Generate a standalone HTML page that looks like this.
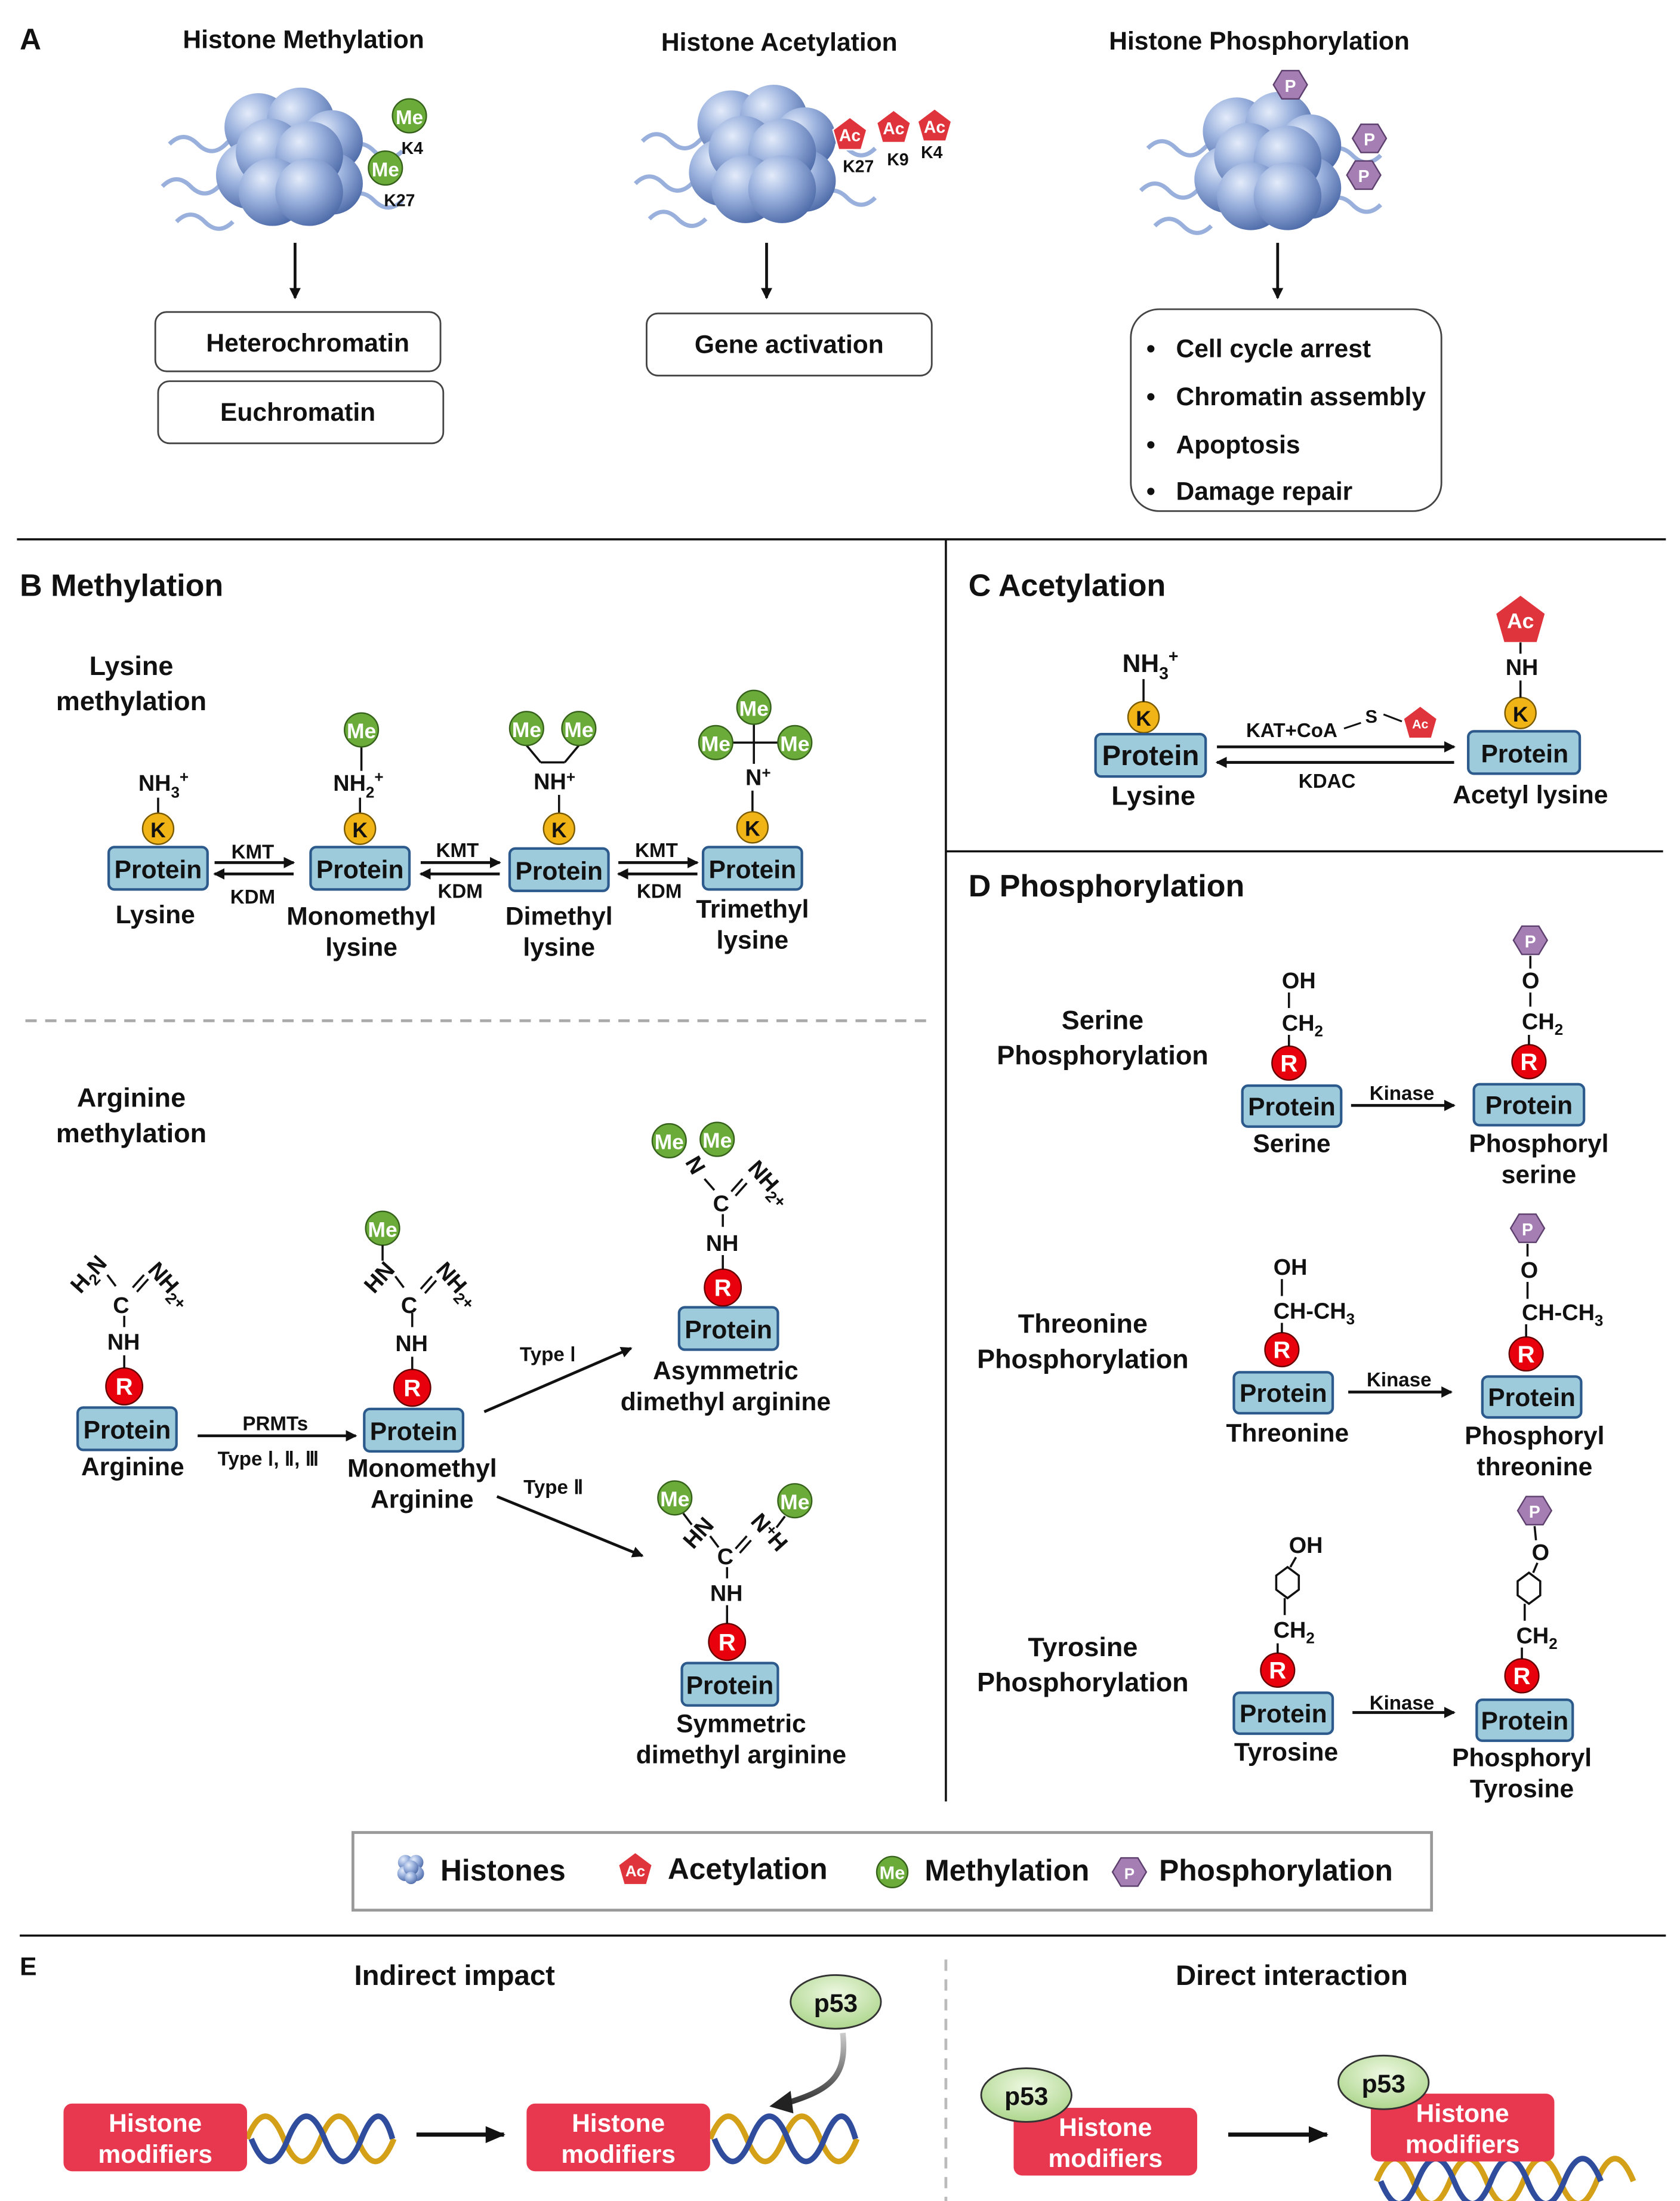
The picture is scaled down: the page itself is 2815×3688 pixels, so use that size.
<!DOCTYPE html>
<html><head><meta charset="utf-8"><style>
html,body{margin:0;padding:0;background:#fff}
svg{display:block}
text{font-family:"Liberation Sans",Arial,sans-serif;font-weight:bold;fill:#111}
</style></head><body>
<svg width="2815" height="3688" viewBox="0 0 1190 1559" xmlns="http://www.w3.org/2000/svg">
<defs>
<radialGradient id="sph" cx="0.35" cy="0.3" r="0.75"><stop offset="0" stop-color="#e4ecfa"/><stop offset="0.45" stop-color="#9bb2de"/><stop offset="1" stop-color="#4d6aa8"/></radialGradient>
<radialGradient id="p53g" cx="0.5" cy="0.35" r="0.7"><stop offset="0" stop-color="#eef8e2"/><stop offset="1" stop-color="#a9d487"/></radialGradient>
<linearGradient id="garr" x1="0" y1="0" x2="0" y2="1"><stop offset="0" stop-color="#ccc"/><stop offset="1" stop-color="#333"/></linearGradient>
<marker id="ah" markerWidth="8" markerHeight="8" refX="7" refY="4" orient="auto" markerUnits="userSpaceOnUse"><path d="M0,0 L8,4 L0,8 z" fill="#111"/></marker>
<marker id="ahb" markerWidth="14" markerHeight="12" refX="13" refY="6" orient="auto" markerUnits="userSpaceOnUse"><path d="M0,0 L14,6 L0,12 z" fill="#111"/></marker>
<g id="nuc">
<path d="M-85,-10 q10,-10 20,0 t20,0 t20,0" stroke="#9ab0dc" stroke-width="3" fill="none"/>
<path d="M-90,20 q10,-10 20,0 t20,0 t20,0" stroke="#9ab0dc" stroke-width="3" fill="none"/>
<path d="M-80,45 q10,-10 20,0 t20,0" stroke="#9ab0dc" stroke-width="3" fill="none"/>
<path d="M40,-5 q10,-10 20,0 t20,0" stroke="#9ab0dc" stroke-width="3" fill="none"/>
<path d="M40,30 q10,-10 20,0 t20,0" stroke="#9ab0dc" stroke-width="3" fill="none"/>
<circle cx="-22" cy="-22" r="24" fill="url(#sph)"/><circle cx="8" cy="-26" r="24" fill="url(#sph)"/><circle cx="30" cy="-12" r="22" fill="url(#sph)"/>
<circle cx="-28" cy="12" r="24" fill="url(#sph)"/><circle cx="30" cy="18" r="22" fill="url(#sph)"/>
<circle cx="-14" cy="-4" r="24" fill="url(#sph)"/><circle cx="14" cy="-2" r="24" fill="url(#sph)"/>
<circle cx="-12" cy="24" r="24" fill="url(#sph)"/><circle cx="14" cy="24" r="24" fill="url(#sph)"/>
</g>
<g id="pent"><path d="M0,-12 L12,-3 L8,11 L-8,11 L-12,-3 z" fill="#e0343c" stroke="#fff" stroke-width="1"/></g>
<g id="hex"><path d="M-6,-10 L6,-10 L12,0 L6,10 L-6,10 L-12,0 z" fill="#a57fb4" stroke="#5d3f6d" stroke-width="1"/></g>
</defs>

<!-- legend box first -->
<rect x="250" y="1298" width="764" height="55" fill="#fff" stroke="#999" stroke-width="2"/>

<!-- dividers -->
<g stroke="#111" stroke-width="1.5">
<line x1="12" y1="382" x2="1180" y2="382"/>
<line x1="670" y1="382" x2="670" y2="1276"/>
<line x1="670" y1="603" x2="1178" y2="603"/>
<line x1="14" y1="1371" x2="1180" y2="1371"/>
</g>
<line x1="18" y1="723" x2="660" y2="723" stroke="#aaa" stroke-width="2" stroke-dasharray="8,6"/>
<line x1="670" y1="1388" x2="670" y2="1559" stroke="#bbb" stroke-width="2" stroke-dasharray="8,6"/>

<!-- A -->
<text x="14" y="35" font-size="21">A</text>
<text x="215" y="34" font-size="18" text-anchor="middle">Histone Methylation</text>
<text x="552" y="36" font-size="18" text-anchor="middle">Histone Acetylation</text>
<text x="892" y="35" font-size="18" text-anchor="middle">Histone Phosphorylation</text>
<use href="#nuc" x="205" y="112"/>
<use href="#nuc" x="540" y="110"/>
<use href="#nuc" x="898" y="115"/>
<circle cx="290" cy="82" r="12" fill="#6aab3a" stroke="#35611a"/><text x="290" y="88" font-size="14" text-anchor="middle" style="fill:#fff">Me</text>
<circle cx="273" cy="119" r="12" fill="#6aab3a" stroke="#35611a"/><text x="273" y="125" font-size="14" text-anchor="middle" style="fill:#fff">Me</text>
<text x="292" y="109" font-size="12" text-anchor="middle">K4</text><text x="283" y="146" font-size="12" text-anchor="middle">K27</text>
<use href="#pent" x="602" y="95"/><text x="602" y="100" font-size="12" text-anchor="middle" style="fill:#fff">Ac</text>
<use href="#pent" x="633" y="90"/><text x="633" y="95" font-size="12" text-anchor="middle" style="fill:#fff">Ac</text>
<use href="#pent" x="662" y="89"/><text x="662" y="94" font-size="12" text-anchor="middle" style="fill:#fff">Ac</text>
<text x="608" y="122" font-size="12" text-anchor="middle">K27</text><text x="636" y="117" font-size="12" text-anchor="middle">K9</text><text x="660" y="112" font-size="12" text-anchor="middle">K4</text>
<use href="#hex" x="914" y="60"/><text x="914" y="65" font-size="12" text-anchor="middle" style="fill:#fff">P</text>
<use href="#hex" x="970" y="98"/><text x="970" y="103" font-size="12" text-anchor="middle" style="fill:#fff">P</text>
<use href="#hex" x="966" y="124"/><text x="966" y="129" font-size="12" text-anchor="middle" style="fill:#fff">P</text>
<g stroke="#111" stroke-width="2">
<line x1="209" y1="172" x2="209" y2="211" marker-end="url(#ah)"/>
<line x1="543" y1="172" x2="543" y2="211" marker-end="url(#ah)"/>
<line x1="905" y1="172" x2="905" y2="211" marker-end="url(#ah)"/>
</g>
<g fill="#fff" stroke="#444" stroke-width="1.2">
<rect x="110" y="221" width="202" height="42" rx="8"/>
<rect x="112" y="270" width="202" height="44" rx="8"/>
<rect x="458" y="222" width="202" height="44" rx="8"/>
<rect x="801" y="219" width="220" height="143" rx="20"/>
</g>
<text x="218" y="249" font-size="18" text-anchor="middle">Heterochromatin</text>
<text x="211" y="298" font-size="18" text-anchor="middle">Euchromatin</text>
<text x="559" y="250" font-size="18" text-anchor="middle">Gene activation</text>
<g font-size="18"><text x="812" y="253">•</text><text x="833" y="253">Cell cycle arrest</text>
<text x="812" y="287">•</text><text x="833" y="287">Chromatin assembly</text>
<text x="812" y="321">•</text><text x="833" y="321">Apoptosis</text>
<text x="812" y="354">•</text><text x="833" y="354">Damage repair</text></g>

<!-- B -->
<text x="14" y="422" font-size="22">B  Methylation</text>
<text x="93" y="478" font-size="19" text-anchor="middle">Lysine</text>
<text x="93" y="503" font-size="19" text-anchor="middle">methylation</text>
<g stroke="#111" stroke-width="1.5">
<line x1="256" y1="529" x2="256" y2="546"/>
<line x1="373" y1="528" x2="383" y2="540"/><line x1="410" y1="528" x2="400" y2="540"/><line x1="383" y1="540" x2="400" y2="540"/>
<line x1="534" y1="513" x2="534" y2="541"/><line x1="519" y1="526" x2="551" y2="526"/>
<line x1="112" y1="565" x2="112" y2="576"/><line x1="255" y1="565" x2="255" y2="576"/><line x1="396" y1="563" x2="396" y2="576"/><line x1="533" y1="560" x2="533" y2="575"/>
</g>
<g font-size="16">
<text x="98" y="560">NH<tspan font-size="11" dy="5">3</tspan><tspan font-size="11" dy="-11">+</tspan></text>
<text x="236" y="560">NH<tspan font-size="11" dy="5">2</tspan><tspan font-size="11" dy="-11">+</tspan></text>
<text x="378" y="559">NH<tspan font-size="11" dy="-5">+</tspan></text>
<text x="528" y="556">N<tspan font-size="11" dy="-5">+</tspan></text>
</g>
<g fill="#6aab3a" stroke="#35611a">
<circle cx="256" cy="517" r="12"/><circle cx="373" cy="516" r="12"/><circle cx="410" cy="516" r="12"/>
<circle cx="534" cy="501" r="12"/><circle cx="507" cy="526" r="12"/><circle cx="563" cy="526" r="12"/>
<circle cx="474" cy="808" r="12"/><circle cx="508" cy="807" r="12"/><circle cx="271" cy="870" r="12"/>
<circle cx="478" cy="1061" r="12"/><circle cx="563" cy="1063" r="12"/>
<circle cx="632" cy="1326" r="11"/>
</g>
<g font-size="15" text-anchor="middle">
<text x="256" y="523" style="fill:#fff">Me</text><text x="373" y="522" style="fill:#fff">Me</text><text x="410" y="522" style="fill:#fff">Me</text>
<text x="534" y="507" style="fill:#fff">Me</text><text x="507" y="532" style="fill:#fff">Me</text><text x="563" y="532" style="fill:#fff">Me</text>
<text x="474" y="814" style="fill:#fff">Me</text><text x="508" y="813" style="fill:#fff">Me</text><text x="271" y="876" style="fill:#fff">Me</text>
<text x="478" y="1067" style="fill:#fff">Me</text><text x="563" y="1069" style="fill:#fff">Me</text>
<text x="632" y="1331" font-size="13" style="fill:#fff">Me</text>
</g>
<!-- K circles -->
<g fill="#f0b416" stroke="#7a5a00">
<circle cx="112" cy="587" r="11"/><circle cx="255" cy="587" r="11"/><circle cx="396" cy="587" r="11"/><circle cx="533" cy="586" r="11"/>
<circle cx="810" cy="508" r="11"/><circle cx="1077" cy="505" r="11"/>
</g>
<g font-size="15" text-anchor="middle">
<text x="112" y="593">K</text><text x="255" y="593">K</text><text x="396" y="593">K</text><text x="533" y="592">K</text><text x="810" y="514">K</text><text x="1077" y="511">K</text>
</g>
<!-- protein boxes -->
<g fill="#9ecbdc" stroke="#2d5a8c" stroke-width="1.8">
<rect x="77" y="600" width="70" height="30" rx="4"/><rect x="220" y="600" width="70" height="30" rx="4"/><rect x="361" y="601" width="70" height="30" rx="4"/><rect x="498" y="600" width="70" height="30" rx="4"/>
<rect x="55" y="997" width="70" height="30" rx="4"/><rect x="258" y="998" width="70" height="30" rx="4"/>
<rect x="481" y="926" width="70" height="30" rx="4"/><rect x="483" y="1178" width="68" height="30" rx="4"/>
<rect x="776" y="520" width="78" height="30" rx="4"/><rect x="1040" y="518" width="79" height="30" rx="4"/>
<rect x="880" y="769" width="70" height="29" rx="4"/><rect x="1044" y="768" width="78" height="29" rx="4"/>
<rect x="874" y="972" width="70" height="29" rx="4"/><rect x="1050" y="975" width="70" height="29" rx="4"/>
<rect x="874" y="1199" width="70" height="29" rx="4"/><rect x="1046" y="1204" width="68" height="29" rx="4"/>
</g>
<g font-size="18" text-anchor="middle">
<text x="112" y="622">Protein</text><text x="255" y="622">Protein</text><text x="396" y="623">Protein</text><text x="533" y="622">Protein</text>
<text x="90" y="1019">Protein</text><text x="293" y="1020">Protein</text><text x="516" y="948">Protein</text><text x="517" y="1200">Protein</text>
<text x="815" y="542" font-size="20">Protein</text><text x="1080" y="540">Protein</text>
<text x="915" y="790">Protein</text><text x="1083" y="789">Protein</text>
<text x="909" y="993">Protein</text><text x="1085" y="996">Protein</text>
<text x="909" y="1220">Protein</text><text x="1080" y="1225">Protein</text>
</g>
<!-- lysine arrows -->
<g stroke="#111" stroke-width="2">
<line x1="152" y1="611" x2="208" y2="611" marker-end="url(#ah)"/><line x1="208" y1="619" x2="152" y2="619" marker-end="url(#ah)"/>
<line x1="298" y1="611" x2="354" y2="611" marker-end="url(#ah)"/><line x1="354" y1="619" x2="298" y2="619" marker-end="url(#ah)"/>
<line x1="438" y1="611" x2="494" y2="611" marker-end="url(#ah)"/><line x1="494" y1="619" x2="438" y2="619" marker-end="url(#ah)"/>
</g>
<g font-size="14" text-anchor="middle">
<text x="179" y="608">KMT</text><text x="179" y="640">KDM</text>
<text x="324" y="607">KMT</text><text x="326" y="636">KDM</text>
<text x="465" y="607">KMT</text><text x="467" y="636">KDM</text>
</g>
<g font-size="18" text-anchor="middle">
<text x="110" y="654">Lysine</text>
<text x="256" y="655">Monomethyl</text><text x="256" y="677">lysine</text>
<text x="396" y="655">Dimethyl</text><text x="396" y="677">lysine</text>
<text x="533" y="650">Trimethyl</text><text x="533" y="672">lysine</text>
</g>

<!-- arginine -->
<text x="93" y="784" font-size="19" text-anchor="middle">Arginine</text>
<text x="93" y="809" font-size="19" text-anchor="middle">methylation</text>
<g fill="#e8000c" stroke="#600">
<circle cx="88" cy="982" r="13"/><circle cx="292" cy="983" r="13"/><circle cx="512" cy="912" r="13"/><circle cx="515" cy="1163" r="13"/>
<circle cx="913" cy="753" r="12"/><circle cx="1083" cy="752" r="12"/><circle cx="908" cy="956" r="12"/><circle cx="1081" cy="959" r="12"/><circle cx="905" cy="1183" r="12"/><circle cx="1078" cy="1187" r="12"/>
</g>
<g font-size="17" text-anchor="middle">
<text x="88" y="988" style="fill:#fff">R</text><text x="292" y="989" style="fill:#fff">R</text><text x="512" y="918" style="fill:#fff">R</text><text x="515" y="1169" style="fill:#fff">R</text>
<text x="913" y="759" style="fill:#fff">R</text><text x="1083" y="758" style="fill:#fff">R</text><text x="908" y="962" style="fill:#fff">R</text><text x="1081" y="965" style="fill:#fff">R</text><text x="905" y="1189" style="fill:#fff">R</text><text x="1078" y="1193" style="fill:#fff">R</text>
</g>
<g stroke="#111" stroke-width="1.5">
<line x1="88" y1="960" x2="88" y2="969"/><line x1="88" y1="932" x2="88" y2="940"/>
<line x1="292" y1="961" x2="292" y2="970"/><line x1="292" y1="930" x2="292" y2="940"/><line x1="271" y1="882" x2="271" y2="893"/>
<line x1="512" y1="889" x2="512" y2="899"/><line x1="512" y1="860" x2="512" y2="869"/>
<line x1="515" y1="1137" x2="515" y2="1150"/><line x1="515" y1="1110" x2="515" y2="1118"/>
<line x1="484" y1="1072" x2="490" y2="1080"/><line x1="556" y1="1074" x2="550" y2="1082"/>
<!-- side bonds -->
<line x1="76" y1="903" x2="82" y2="911"/><line x1="94" y1="912" x2="102" y2="903"/><line x1="97" y1="915" x2="105" y2="906"/>
<line x1="280" y1="904" x2="286" y2="912"/><line x1="298" y1="913" x2="306" y2="904"/><line x1="301" y1="916" x2="309" y2="907"/>
<line x1="499" y1="835" x2="506" y2="843"/><line x1="518" y1="844" x2="526" y2="835"/><line x1="521" y1="847" x2="529" y2="838"/>
<line x1="503" y1="1088" x2="509" y2="1096"/><line x1="521" y1="1097" x2="529" y2="1088"/><line x1="524" y1="1100" x2="532" y2="1091"/>
</g>
<g font-size="16">
<text x="80" y="930">C</text><text x="76" y="956">NH</text>
<text transform="translate(57,917) rotate(-48)">H<tspan font-size="11" dy="4">2</tspan><tspan dy="-4">N</tspan></text>
<text transform="translate(104,900) rotate(48)">NH<tspan font-size="11" dy="4">2</tspan><tspan font-size="12" dy="-2">+</tspan></text>
<text x="284" y="930">C</text><text x="280" y="957">NH</text>
<text transform="translate(265,917) rotate(-48)">HN</text>
<text transform="translate(308,900) rotate(48)">NH<tspan font-size="11" dy="4">2</tspan><tspan font-size="12" dy="-2">+</tspan></text>
<text x="505" y="858">C</text><text x="500" y="886">NH</text>
<text transform="translate(485,823) rotate(60)">N</text>
<text transform="translate(529,828) rotate(48)">NH<tspan font-size="11" dy="4">2</tspan><tspan font-size="12" dy="-2">+</tspan></text>
<text x="508" y="1108">C</text><text x="503" y="1134">NH</text>
<text transform="translate(491,1098) rotate(-48)">HN</text>
<text transform="translate(531,1078) rotate(48)">N<tspan font-size="11" dy="-4">+</tspan><tspan dy="4">H</tspan></text>
</g>
<line x1="140" y1="1017" x2="252" y2="1017" stroke="#111" stroke-width="2" marker-end="url(#ah)"/>
<text x="195" y="1013" font-size="14" text-anchor="middle">PRMTs</text>
<text x="190" y="1038" font-size="14" text-anchor="middle">Type Ⅰ, Ⅱ, Ⅲ</text>
<line x1="343" y1="1000" x2="447" y2="955" stroke="#111" stroke-width="2" marker-end="url(#ah)"/>
<line x1="352" y1="1060" x2="455" y2="1102" stroke="#111" stroke-width="2" marker-end="url(#ah)"/>
<text x="388" y="964" font-size="14" text-anchor="middle">Type Ⅰ</text>
<text x="392" y="1058" font-size="14" text-anchor="middle">Type Ⅱ</text>
<g font-size="18" text-anchor="middle">
<text x="94" y="1045">Arginine</text>
<text x="299" y="1046">Monomethyl</text><text x="299" y="1068">Arginine</text>
<text x="514" y="977">Asymmetric</text><text x="514" y="999">dimethyl arginine</text>
<text x="525" y="1227">Symmetric</text><text x="525" y="1249">dimethyl arginine</text>
</g>

<!-- C -->
<text x="686" y="422" font-size="22">C  Acetylation</text>
<text x="795" y="476" font-size="18">NH<tspan font-size="12" dy="5">3</tspan><tspan font-size="12" dy="-12">+</tspan></text>
<line x1="810" y1="481" x2="810" y2="497" stroke="#111" stroke-width="1.5"/>
<g transform="translate(1077,439) scale(1.5)"><use href="#pent"/></g>
<text x="1077" y="445" font-size="15" text-anchor="middle" style="fill:#fff">Ac</text>
<line x1="1077" y1="455" x2="1077" y2="463" stroke="#111" stroke-width="1.5"/>
<text x="1078" y="478" font-size="16" text-anchor="middle">NH</text>
<line x1="1077" y1="482" x2="1077" y2="494" stroke="#111" stroke-width="1.5"/>
<line x1="862" y1="529" x2="1030" y2="529" stroke="#111" stroke-width="2" marker-end="url(#ah)"/>
<line x1="1030" y1="540" x2="862" y2="540" stroke="#111" stroke-width="2" marker-end="url(#ah)"/>
<text x="915" y="522" font-size="14" text-anchor="middle">KAT+CoA</text>
<polyline points="952,516 964,512" stroke="#111" fill="none" stroke-width="1.3"/>
<text x="967" y="512" font-size="13">S</text>
<line x1="980" y1="506" x2="993" y2="511" stroke="#111" stroke-width="1.3"/>
<use href="#pent" x="1006" y="512"/><text x="1006" y="516" font-size="9" text-anchor="middle" style="fill:#fff">Ac</text>
<text x="940" y="558" font-size="14" text-anchor="middle">KDAC</text>
<text x="817" y="570" font-size="19" text-anchor="middle">Lysine</text>
<text x="1084" y="569" font-size="18" text-anchor="middle">Acetyl lysine</text>

<!-- D -->
<text x="686" y="635" font-size="22">D  Phosphorylation</text>
<g font-size="19" text-anchor="middle">
<text x="781" y="729">Serine</text><text x="781" y="754">Phosphorylation</text>
<text x="767" y="944">Threonine</text><text x="767" y="969">Phosphorylation</text>
<text x="767" y="1173">Tyrosine</text><text x="767" y="1198">Phosphorylation</text>
</g>
<g font-size="16">
<text x="908" y="700">OH</text><text x="908" y="730">CH<tspan font-size="11" dy="4">2</tspan></text>
<text x="1078" y="700">O</text><text x="1078" y="729">CH<tspan font-size="11" dy="4">2</tspan></text>
<text x="902" y="903">OH</text><text x="902" y="934">CH-CH<tspan font-size="11" dy="4">3</tspan></text>
<text x="1077" y="905">O</text><text x="1078" y="935">CH-CH<tspan font-size="11" dy="4">3</tspan></text>
<text x="913" y="1100">OH</text><text x="902" y="1160">CH<tspan font-size="11" dy="4">2</tspan></text>
<text x="1085" y="1105">O</text><text x="1074" y="1164">CH<tspan font-size="11" dy="4">2</tspan></text>
</g>
<g stroke="#111" stroke-width="1.5" fill="none">
<line x1="913" y1="703" x2="913" y2="714"/><line x1="913" y1="733" x2="913" y2="741"/>
<line x1="1084" y1="677" x2="1084" y2="686"/><line x1="1084" y1="703" x2="1084" y2="713"/><line x1="1083" y1="733" x2="1083" y2="740"/>
<line x1="908" y1="906" x2="908" y2="918"/><line x1="908" y1="937" x2="908" y2="944"/>
<line x1="1082" y1="881" x2="1082" y2="890"/><line x1="1082" y1="908" x2="1082" y2="920"/><line x1="1081" y1="938" x2="1081" y2="947"/>
<line x1="918" y1="1103" x2="914" y2="1110"/><path d="M904,1116 L912,1110 L920,1116 L920,1126 L912,1132 L904,1126 z"/><line x1="910" y1="1132" x2="910" y2="1144"/><line x1="905" y1="1164" x2="905" y2="1171"/>
<line x1="1087" y1="1081" x2="1088" y2="1091"/><line x1="1089" y1="1107" x2="1086" y2="1114"/><path d="M1075,1120 L1083,1114 L1091,1120 L1091,1130 L1083,1136 L1075,1130 z"/><line x1="1080" y1="1136" x2="1080" y2="1148"/><line x1="1078" y1="1167" x2="1078" y2="1175"/>
</g>
<use href="#hex" x="1084" y="666"/><text x="1084" y="671" font-size="12" text-anchor="middle" style="fill:#fff">P</text>
<use href="#hex" x="1082" y="870"/><text x="1082" y="875" font-size="12" text-anchor="middle" style="fill:#fff">P</text>
<use href="#hex" x="1087" y="1070"/><text x="1087" y="1075" font-size="12" text-anchor="middle" style="fill:#fff">P</text>
<g stroke="#111" stroke-width="2">
<line x1="957" y1="783" x2="1030" y2="783" marker-end="url(#ah)"/>
<line x1="955" y1="986" x2="1028" y2="986" marker-end="url(#ah)"/>
<line x1="958" y1="1213" x2="1030" y2="1213" marker-end="url(#ah)"/>
</g>
<g font-size="14" text-anchor="middle"><text x="993" y="779">Kinase</text><text x="991" y="982">Kinase</text><text x="993" y="1211">Kinase</text></g>
<g font-size="18" text-anchor="middle">
<text x="915" y="816">Serine</text><text x="1090" y="816">Phosphoryl</text><text x="1090" y="838">serine</text>
<text x="912" y="1021">Threonine</text><text x="1087" y="1023">Phosphoryl</text><text x="1087" y="1045">threonine</text>
<text x="911" y="1247">Tyrosine</text><text x="1078" y="1251">Phosphoryl</text><text x="1078" y="1273">Tyrosine</text>
</g>

<!-- legend content -->
<g transform="translate(292,1324) scale(0.22)"><circle cx="-22" cy="-22" r="24" fill="url(#sph)"/><circle cx="12" cy="-22" r="24" fill="url(#sph)"/><circle cx="-24" cy="14" r="24" fill="url(#sph)"/><circle cx="14" cy="14" r="24" fill="url(#sph)"/><circle cx="-4" cy="-4" r="24" fill="url(#sph)"/><circle cx="-4" cy="28" r="20" fill="url(#sph)"/></g>
<use href="#pent" x="450" y="1324"/><text x="450" y="1329" font-size="11" text-anchor="middle" style="fill:#fff">Ac</text>
<use href="#hex" x="800" y="1326"/><text x="800" y="1331" font-size="11" text-anchor="middle" style="fill:#fff">P</text>
<g font-size="21"><text x="312" y="1332">Histones</text><text x="473" y="1331">Acetylation</text><text x="655" y="1332">Methylation</text><text x="821" y="1332">Phosphorylation</text></g>

<!-- E -->
<text x="14" y="1399" font-size="18">E</text>
<text x="322" y="1406" font-size="20" text-anchor="middle">Indirect impact</text>
<text x="915" y="1406" font-size="20" text-anchor="middle">Direct interaction</text>
<g fill="none" stroke-width="4">
<path d="M175,1515 q13,-32 26,0 t26,0 t26,0 t26,0" stroke="#d4a017"/>
<path d="M178,1515 q13,32 26,0 t26,0 t26,0 t22,0" stroke="#2f4d9c"/>
<path d="M503,1515 q13,-32 26,0 t26,0 t26,0 t26,0" stroke="#d4a017"/>
<path d="M506,1515 q13,32 26,0 t26,0 t26,0 t22,0" stroke="#2f4d9c"/>
<path d="M975,1545 q13,-32 26,0 t26,0 t26,0 t26,0 t26,0 t26,0 t26,0" stroke="#d4a017"/>
<path d="M978,1545 q13,32 26,0 t26,0 t26,0 t26,0 t26,0 t26,0" stroke="#2f4d9c"/>
</g>
<g fill="#e8384f">
<rect x="45" y="1490" width="130" height="48" rx="6"/><rect x="373" y="1490" width="130" height="48" rx="6"/>
<rect x="718" y="1493" width="130" height="48" rx="6"/><rect x="971" y="1483" width="130" height="48" rx="6"/>
</g>
<g font-size="18" text-anchor="middle">
<text x="110" y="1510" style="fill:#fff">Histone</text><text x="110" y="1532" style="fill:#fff">modifiers</text>
<text x="438" y="1510" style="fill:#fff">Histone</text><text x="438" y="1532" style="fill:#fff">modifiers</text>
<text x="783" y="1513" style="fill:#fff">Histone</text><text x="783" y="1535" style="fill:#fff">modifiers</text>
<text x="1036" y="1503" style="fill:#fff">Histone</text><text x="1036" y="1525" style="fill:#fff">modifiers</text>
</g>
<g stroke="#111" stroke-width="3">
<line x1="295" y1="1512" x2="357" y2="1512" marker-end="url(#ahb)"/>
<line x1="870" y1="1512" x2="940" y2="1512" marker-end="url(#ahb)"/>
</g>
<path d="M597,1440 C600,1470 590,1480 556,1490" stroke="url(#garr)" stroke-width="4" fill="none"/>
<path d="M545,1492 L560,1481 L562,1497 z" fill="#222"/>
<g fill="url(#p53g)" stroke="#333" stroke-width="1.2">
<ellipse cx="592" cy="1418" rx="32" ry="19"/><ellipse cx="727" cy="1484" rx="32" ry="19"/><ellipse cx="980" cy="1475" rx="32" ry="19"/>
</g>
<g font-size="18" text-anchor="middle"><text x="592" y="1425">p53</text><text x="727" y="1491">p53</text><text x="980" y="1482">p53</text></g>
</svg>
</body></html>
